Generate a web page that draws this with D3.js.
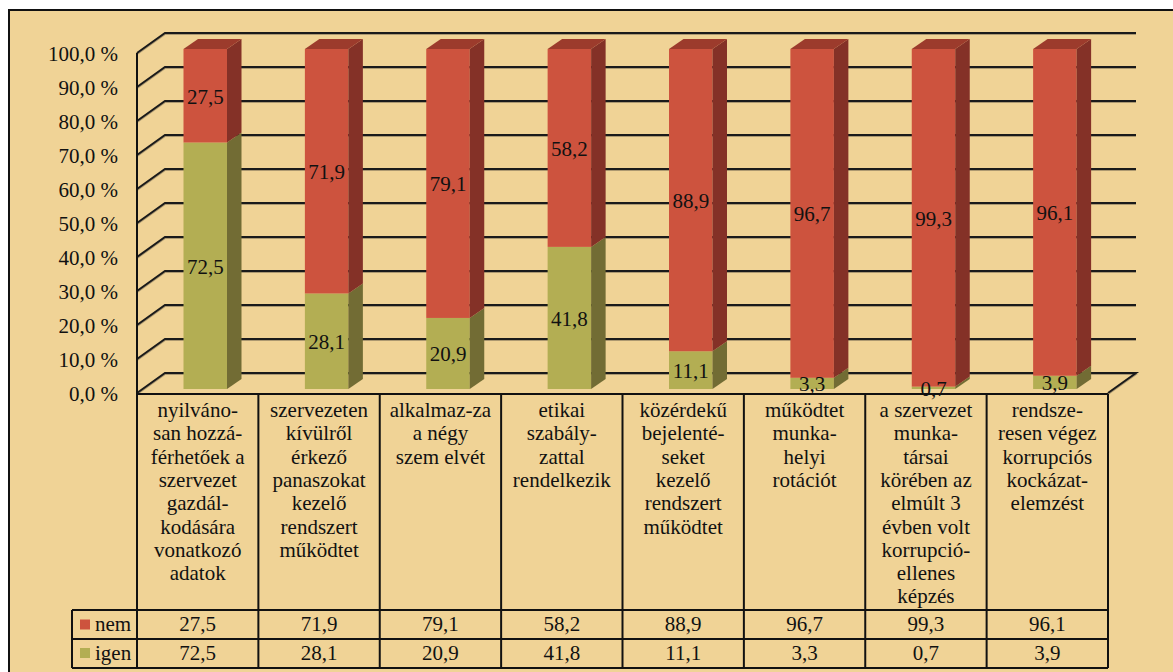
<!DOCTYPE html>
<html><head><meta charset="utf-8">
<script src="https://cdn.jsdelivr.net/npm/d3@7"></script>
<style>body{margin:0;background:#fff}svg{display:block}</style>
</head><body><svg id="c" width="1173" height="672"></svg>
<script>
const categories = [
 "nyilváno-\nsan hozzá-\nférhetőek a\nszervezet\ngazdál-\nkodására\nvonatkozó\nadatok",
 "szervezeten\nkívülről\nérkező\npanaszokat\nkezelő\nrendszert\nműködtet",
 "alkalmaz-za\na négy\nszem elvét",
 "etikai\nszabály-\nzattal\nrendelkezik",
 "közérdekű\nbejelenté-\nseket\nkezelő\nrendszert\nműködtet",
 "működtet\nmunka-\nhelyi\nrotációt",
 "a szervezet\nmunka-\ntársai\nkörében az\nelmúlt 3\névben volt\nkorrupció-\nellenes\nképzés",
 "rendsze-\nresen végez\nkorrupciós\nkockázat-\nelemzést"
];
const seriesNames = ["nem","igen"];
const nemValues = [27.5,71.9,79.1,58.2,88.9,96.7,99.3,96.1];
const igenValues = [72.5,28.1,20.9,41.8,11.1,3.3,0.7,3.9];
const yTicks = [0,10,20,30,40,50,60,70,80,90,100];

const FONT = "'Liberation Serif', serif";
const svg = d3.select("#c");
const fmt = v => d3.format(".1f")(v).replace(".", ",");
const txt = (sel) => sel.attr("font-family", FONT).attr("font-size", 21).attr("fill", "#111");

const X0 = 137, X1 = 1108, Y0 = 393, Y1 = 53;
const DX = 28, DY = -20;
const tableTop = 394, rowNem = 610, rowIgen = 639, tableBottom = 668, legendLeft = 72;
const colors = {
  nem: {front:"#CD533E", side:"#843127", top:"#9C3B2C"},
  igen:{front:"#B3AE53", side:"#726C34", top:"#8E8A43"}
};

svg.append("rect").attr("x",9).attr("y",10).attr("width",1200).attr("height",700)
  .attr("fill","#F0D396").attr("stroke","#111").attr("stroke-width",2);

const x = d3.scaleBand().domain(d3.range(categories.length)).range([X0, X1]).padding(0);
const y = d3.scaleLinear().domain([0,100]).range([Y0, Y1]);

const grid = svg.append("g");
yTicks.forEach(t => {
  const yy = y(t);
  const pts = [[X0, yy],[X0+DX, yy+DY],[X1+DX, yy+DY]];
  if (t === 0) pts.push([X1, yy]);
  grid.append("path").attr("d", d3.line()(pts.map(p=>[p[0],p[1]+1.5])))
    .attr("fill","none").attr("stroke","#9b8a66").attr("stroke-width",1.2).attr("opacity",0.8);
  grid.append("path").attr("d", d3.line()(pts))
    .attr("fill","none").attr("stroke","#1a1a1a").attr("stroke-width",2);
});

svg.append("g").selectAll("text").data(yTicks).join("text")
  .attr("x",118).attr("y",d=>y(d)+8.3).attr("text-anchor","end")
  .call(txt).text(d=>fmt(d)+" %");

const bw = 43.5, bdx = 14.5, bdy = -10, off = 0.2;
const bars = svg.append("g");
categories.forEach((c,i) => {
  const xl = x(i) + 46.5, xr = xl + bw;
  const segs = [
    {key:"igen", lo:0, hi:igenValues[i]},
    {key:"nem", lo:igenValues[i], hi:igenValues[i]+nemValues[i]}
  ];
  const fy = v => y(v) + off*DY;
  segs.forEach((s, k) => {
    const col = colors[s.key];
    const yb = fy(s.lo), yt = fy(s.hi);
    bars.append("rect").attr("x",xl).attr("y",yt).attr("width",bw).attr("height",Math.max(0,yb-yt)).attr("fill",col.front);
    bars.append("path").attr("d", d3.line()([[xr,yb],[xr,yt],[xr+bdx,yt+bdy],[xr+bdx,yb+bdy]])+"Z").attr("fill",col.side);
    if (k === segs.length-1) {
      bars.append("path").attr("d", d3.line()([[xl,yt],[xr,yt],[xr+bdx,yt+bdy],[xl+bdx,yt+bdy]])+"Z").attr("fill",col.top);
    }
  });
  segs.forEach(s => {
    const v = s.hi - s.lo;
    const cy = (fy(s.lo)+fy(s.hi))/2;
    bars.append("text").attr("x",xl+bw/2).attr("y",cy+8).attr("text-anchor","middle")
      .call(txt).text(fmt(v));
  });
});

const tbl = svg.append("g");
const line = (x1,y1,x2,y2) => tbl.append("line").attr("x1",x1).attr("y1",y1).attr("x2",x2).attr("y2",y2)
  .attr("stroke","#111").attr("stroke-width",2);
line(X0, tableTop, X1, tableTop);
[rowNem,rowIgen,tableBottom].forEach(yy => line(legendLeft, yy, X1, yy));
line(legendLeft, rowNem, legendLeft, tableBottom);
line(X0, Y1, X0, tableBottom);
categories.forEach((c,i) => line(x(i)+x.bandwidth(), tableTop, x(i)+x.bandwidth(), tableBottom));

categories.forEach((c,i) => {
  const t = tbl.append("text").attr("text-anchor","middle").call(txt);
  c.split("\n").forEach((ln,j) => {
    t.append("tspan").attr("x", x(i)+x.bandwidth()/2).attr("y", 417 + j*23.3).text(ln);
  });
});

const rows = [{name:seriesNames[0], vals:nemValues, base:631, col:colors.nem.front},
              {name:seriesNames[1], vals:igenValues, base:659.5, col:colors.igen.front}];
rows.forEach(r => {
  tbl.append("rect").attr("x",80).attr("y",r.base-11.5).attr("width",10).attr("height",10).attr("fill",r.col);
  tbl.append("text").attr("x",95).attr("y",r.base).call(txt).text(r.name);
  r.vals.forEach((v,i) => tbl.append("text").attr("x",x(i)+x.bandwidth()/2).attr("y",r.base)
    .attr("text-anchor","middle").call(txt).text(fmt(v)));
});
</script></body></html>
